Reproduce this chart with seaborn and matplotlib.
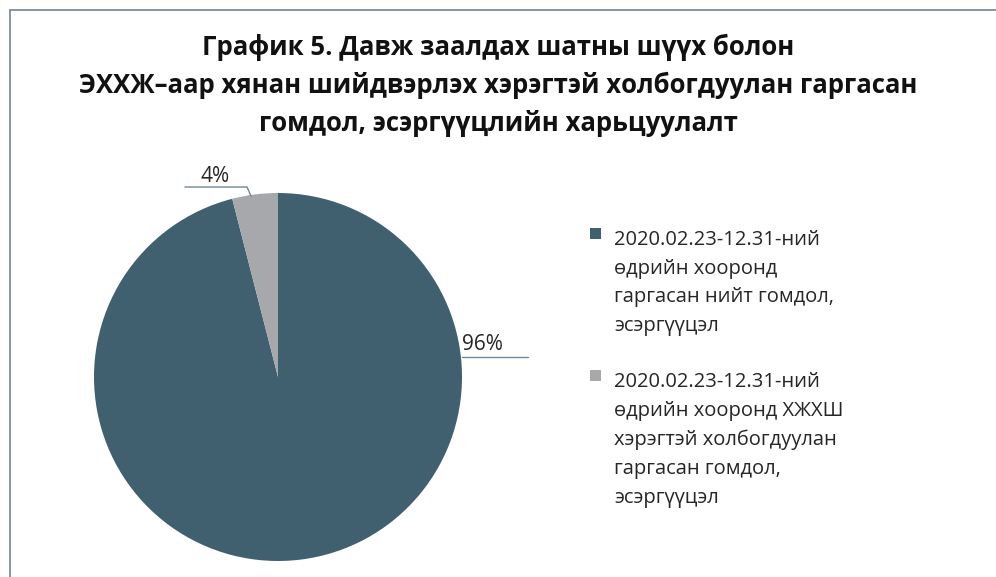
import matplotlib
matplotlib.use("Agg")
import matplotlib.pyplot as plt
import seaborn as sns
from matplotlib.patches import Rectangle
from matplotlib.lines import Line2D

# Өгөгдөл
huvi = [96, 4]
ungu = ["#41606f", "#a6a8ab"]
tailbar = [
    "2020.02.23-12.31-ний\nөдрийн хооронд\nгаргасан нийт гомдол,\nэсэргүүцэл",
    "2020.02.23-12.31-ний\nөдрийн хооронд ХЖХШ\nхэрэгтэй холбогдуулан\nгаргасан гомдол,\nэсэргүүцэл",
]
garchig = ("График 5. Давж заалдах шатны шүүх болон\n"
           "ЭХХЖ–аар хянан шийдвэрлэх хэрэгтэй холбогдуулан гаргасан\n"
           "гомдол, эсэргүүцлийн харьцуулалт")

sns.set_theme(style="white")
plt.rcParams["font.family"] = ["Open Sans", "Noto Sans", "DejaVu Sans"]

W, H = 996, 577
fig = plt.figure(figsize=(W / 100, H / 100), dpi=100)

# хүрээ (зүүн, дээд)
fig.add_artist(Line2D([10 / W, 10 / W], [0, 1 - 10 / H], transform=fig.transFigure,
                      color="#7d8f9b", lw=1.3))
fig.add_artist(Line2D([10 / W, 1], [1 - 10 / H, 1 - 10 / H], transform=fig.transFigure,
                      color="#7d8f9b", lw=1.3))

fig.text(498 / W, 1 - 34 / H, garchig, ha="center", va="top", fontsize=18.5,
         fontweight="bold", color="#111111", linespacing=1.5)

# дугуй диаграм
cx, cy, r = 278, 377, 184
ax = fig.add_axes([(cx - r) / W, (H - cy - r) / H, 2 * r / W, 2 * r / H])
ax.pie(huvi, colors=ungu, startangle=90, counterclock=False,
       wedgeprops=dict(linewidth=0))
ax.set_xlim(-1, 1)
ax.set_ylim(-1, 1)
ax.set_aspect("equal")
ax.axis("off")

def px(x, y):
    return (x - cx) / r, (cy - y) / r

shugam = "#6f8796"
# 4%
ax.plot(*zip(px(251, 196), px(247, 187), px(185, 187)), color=shugam, lw=1, clip_on=False)
ax.text(*px(215, 176), f"{huvi[1]}%", ha="center", va="center", fontsize=15, color="#262626")
# 96%
ax.plot(*zip(px(462, 357), px(528, 357)), color=shugam, lw=1, clip_on=False)
ax.text(*px(482, 345), f"{huvi[0]}%", ha="center", va="center", fontsize=15, color="#262626")

# тайлбар
for i, (lbl, c) in enumerate(zip(tailbar, ungu)):
    ytop = [228, 370][i]
    fig.add_artist(Rectangle((590 / W, 1 - (ytop + 11) / H), 11 / W, 11 / H,
                             transform=fig.transFigure, color=c, lw=0))
    fig.text(614 / W, 1 - (ytop + 2) / H, lbl, ha="left", va="top", fontsize=14.5,
             color="#262626", linespacing=1.58)

fig.savefig("out.png", dpi=100)
